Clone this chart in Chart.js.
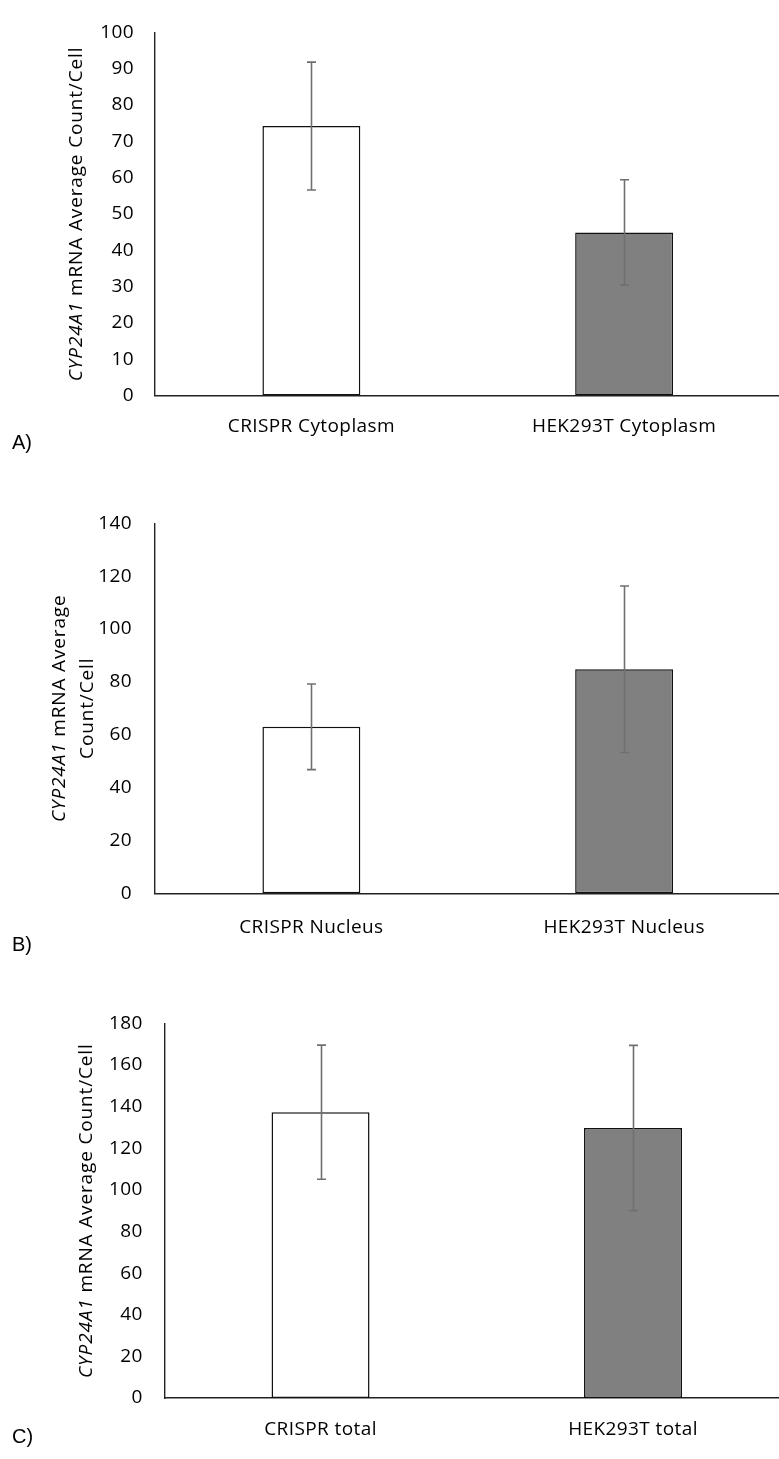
<!DOCTYPE html>
<html>
<head>
<meta charset="utf-8">
<script src="https://cdn.jsdelivr.net/npm/chart.js@4.4.1/dist/chart.umd.min.js"></script>
<style>
  html, body { margin: 0; padding: 0; background: #fff; overflow: hidden; }
  body { width: 779px; height: 1459px; position: relative; }
  .panel { position: absolute; left: 0; }
</style>
</head>
<body>
<div class="panel" id="wrapA" style="top:0px;width:790px;height:460px"><canvas id="chartA"></canvas></div>
<div class="panel" id="wrapB" style="top:470px;width:790px;height:490px"><canvas id="chartB"></canvas></div>
<div class="panel" id="wrapC" style="top:970px;width:800px;height:489px"><canvas id="chartC"></canvas></div>
<script>
// Panel A: cytoplasmic counts
const categoriesA = ['CRISPR Cytoplasm', 'HEK293T Cytoplasm'];
const meansA = [74.2, 44.9];
const errorsA = [17.6, 14.5];
const ticksA = [0, 10, 20, 30, 40, 50, 60, 70, 80, 90, 100];

// Panel B: nuclear counts
const categoriesB = ['CRISPR Nucleus', 'HEK293T Nucleus'];
const meansB = [63.0, 84.8];
const errorsB = [16.2, 31.5];
const ticksB = [0, 20, 40, 60, 80, 100, 120, 140];

// Panel C: total counts
const categoriesC = ['CRISPR total', 'HEK293T total'];
const meansC = [137.3, 129.7];
const errorsC = [32.2, 39.7];
const ticksC = [0, 20, 40, 60, 80, 100, 120, 140, 160, 180];

const barFills = ['#ffffff', '#808080'];
const tickFont = { family: "'Open Sans', sans-serif", size: 19 };

// Slightly spaced lettering for all chart text
const spacingPlugin = {
  id: 'spacing',
  beforeDraw(chart) { chart.ctx.letterSpacing = '0.4px'; }
};

// Error bars drawn from the dataset values via the y scale
const errorBarPlugin = {
  id: 'errorBars',
  afterDatasetsDraw(chart, args, opts) {
    const { ctx } = chart;
    const y = chart.scales.y;
    const meta = chart.getDatasetMeta(0);
    const data = chart.data.datasets[0].data;
    ctx.save();
    ctx.strokeStyle = '#707070';
    ctx.lineWidth = 1.6;
    meta.data.forEach((bar, i) => {
      const v = data[i], e = opts.errors[i];
      const x = Math.round(bar.x) + 0.5;
      const yTop = y.getPixelForValue(v + e);
      const yBot = y.getPixelForValue(v - e);
      ctx.beginPath();
      ctx.moveTo(x, yTop); ctx.lineTo(x, yBot);
      ctx.moveTo(x - 4.5, yTop); ctx.lineTo(x + 4.5, yTop);
      ctx.moveTo(x - 4.5, yBot); ctx.lineTo(x + 4.5, yBot);
      ctx.stroke();
    });
    ctx.restore();
  }
};

// Y-axis title with the gene symbol in italics, plus the panel letter
const sideTextPlugin = {
  id: 'sideText',
  afterDraw(chart, args, opts) {
    const { ctx, chartArea } = chart;
    const cy = (chartArea.top + chartArea.bottom) / 2;
    ctx.save();
    ctx.fillStyle = '#000';
    ctx.textBaseline = 'middle';
    ctx.letterSpacing = '0.85px';
    const italic = "italic 19px 'Open Sans', sans-serif";
    const normal = "19px 'Open Sans', sans-serif";
    opts.lines.forEach(line => {
      ctx.save();
      ctx.translate(line.x, cy);
      ctx.rotate(-Math.PI / 2);
      let total = 0;
      line.parts.forEach(p => { ctx.font = p.italic ? italic : normal; total += ctx.measureText(p.text).width; });
      let pos = -total / 2;
      ctx.textAlign = 'left';
      line.parts.forEach(p => {
        ctx.font = p.italic ? italic : normal;
        ctx.fillText(p.text, pos, 0);
        pos += ctx.measureText(p.text).width;
      });
      ctx.restore();
    });
    ctx.letterSpacing = '0px';
    ctx.font = "20px 'Liberation Sans', Arial, sans-serif";
    ctx.textAlign = 'left';
    ctx.fillText(opts.letter, 12, opts.letterY);
    ctx.restore();
  }
};

function makeChart(id, cfg) {
  return new Chart(document.getElementById(id), {
    type: 'bar',
    data: {
      labels: cfg.categories,
      datasets: [{
        data: cfg.means,
        backgroundColor: barFills,
        borderColor: '#111',
        borderWidth: 1.5,
        borderSkipped: false,
        categoryPercentage: 1,
        barPercentage: 98 / cfg.catWidth
      }]
    },
    options: {
      responsive: true,
      maintainAspectRatio: false,
      animation: false,
      events: [],
      layout: { padding: { top: cfg.padTop, right: cfg.padRight, left: 0, bottom: 0 } },
      plugins: {
        legend: { display: false },
        tooltip: { enabled: false },
        errorBars: { errors: cfg.errors },
        sideText: { lines: cfg.titleLines, letter: cfg.letter, letterY: cfg.letterY }
      },
      scales: {
        x: {
          grid: { display: false, drawTicks: false },
          border: { display: true, color: '#222', width: 1.4 },
          ticks: { color: '#000', font: tickFont, padding: cfg.xPad, maxRotation: 0 },
          afterFit(scale) { scale.height = cfg.xHeight; }
        },
        y: {
          min: cfg.ticks[0],
          max: cfg.ticks[cfg.ticks.length - 1],
          grid: { display: false, drawTicks: false },
          border: { display: true, color: '#222', width: 1.4 },
          ticks: { color: '#000', font: tickFont, padding: cfg.yPad },
          afterBuildTicks(scale) { scale.ticks = cfg.ticks.map(v => ({ value: v })); },
          afterFit(scale) { scale.width = cfg.axisX; }
        }
      }
    },
    plugins: [spacingPlugin, errorBarPlugin, sideTextPlugin]
  });
}

const cytTitle = [{ x: 77, parts: [{ text: 'CYP24A1', italic: true }, { text: ' mRNA Average Count/Cell' }] }];

makeChart('chartA', {
  categories: categoriesA, means: meansA, errors: errorsA, ticks: ticksA,
  axisX: 155, padTop: 19, padRight: 9.5, xHeight: 64.5, xPad: 20, yPad: 21,
  catWidth: 313, titleLines: cytTitle, letter: 'A)', letterY: 443.5
});

makeChart('chartB', {
  categories: categoriesB, means: meansB, errors: errorsB, ticks: ticksB,
  axisX: 155, padTop: 53.3, padRight: 9.5, xHeight: 66.7, xPad: 23, yPad: 23,
  catWidth: 313,
  titleLines: [
    { x: 60, parts: [{ text: 'CYP24A1', italic: true }, { text: ' mRNA Average' }] },
    { x: 88, parts: [{ text: 'Count/Cell' }] }
  ],
  letter: 'B)', letterY: 475
});

makeChart('chartC', {
  categories: categoriesC, means: meansC, errors: errorsC, ticks: ticksC,
  axisX: 164.3, padTop: 53.3, padRight: 10.75, xHeight: 61, xPad: 20, yPad: 21.5,
  catWidth: 312.5,
  titleLines: [{ x: 87, parts: [{ text: 'CYP24A1', italic: true }, { text: ' mRNA Average Count/Cell' }] }],
  letter: 'C)', letterY: 467
});
</script>
</body>
</html>
